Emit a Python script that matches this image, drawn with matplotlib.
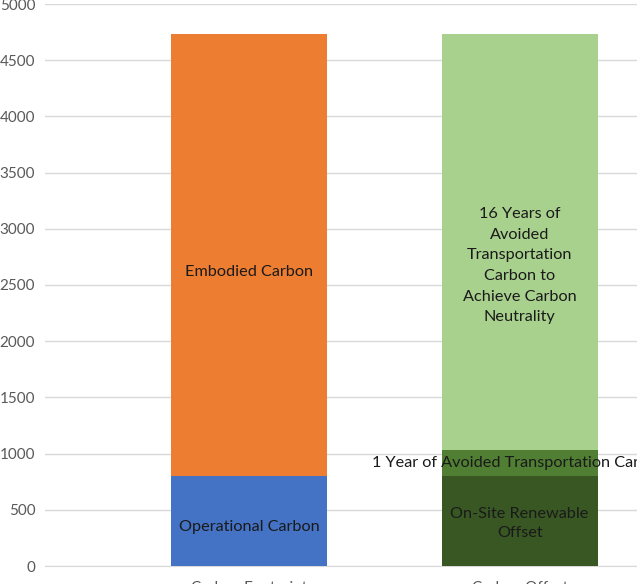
import numpy as np
import matplotlib.pyplot as plt

plt.rcParams['font.family'] = ['Lato', 'DejaVu Sans']

categories = ['Carbon Footprint', 'Carbon Offset']

# footprint side
operational = 800
embodied = 3933

# offset side
renewable = 800
one_year = 231
sixteen_years = 3701

fig = plt.figure(figsize=(6.37, 5.84), dpi=100)
ax = fig.add_axes([45 / 637, 18 / 584, 1 - 45 / 637, 562 / 584])

x = np.arange(len(categories))
w = 0.577

ax.bar(x[0], operational, w, color='#4472C4', zorder=3)
ax.bar(x[0], embodied, w, bottom=operational, color='#ED7D31', zorder=3)

ax.bar(x[1], renewable, w, color='#385723', zorder=3)
ax.bar(x[1], one_year, w, bottom=renewable, color='#507E32', zorder=3)
ax.bar(x[1], sixteen_years, w, bottom=renewable + one_year, color='#A9D18E', zorder=3)

labels = [
    (x[0], operational / 2, 'Operational Carbon', -4, 1.3),
    (x[0], operational + embodied / 2, 'Embodied Carbon', -12, 1.3),
    (x[1], renewable / 2, 'On-Site Renewable\nOffset', -2, 1.45),
    (x[1], renewable + one_year / 2, '1 Year of Avoided Transportation Carbon', 0, 1.3),
    (x[1], renewable + one_year + sixteen_years / 2,
     '16 Years of\nAvoided\nTransportation\nCarbon to\nAchieve Carbon\nNeutrality', -17, 1.6),
]
for xi, yi, txt, dy, ls in labels:
    ax.annotate(txt, (xi, yi), xytext=(0, dy), textcoords='offset points',
                ha='center', va='center', fontsize=11.7, color='#1a1a1a',
                linespacing=ls, zorder=4, annotation_clip=False)

ax.set_xlim(-0.754, 1.434)
ax.set_ylim(0, 5000)
ax.set_yticks(np.arange(0, 5001, 500))
ax.set_xticks(x)
ax.set_xticklabels(categories)
ax.tick_params(axis='y', length=0, pad=7, labelsize=11, labelcolor='#595959')
ax.tick_params(axis='x', length=0, pad=11, labelsize=11, labelcolor='#595959')
ax.grid(axis='y', color='#d9d9d9', linewidth=1, zorder=0)
for s in ['top', 'right', 'left']:
    ax.spines[s].set_visible(False)
ax.spines['bottom'].set_color('#d9d9d9')

fig.savefig('out.png', dpi=100)
